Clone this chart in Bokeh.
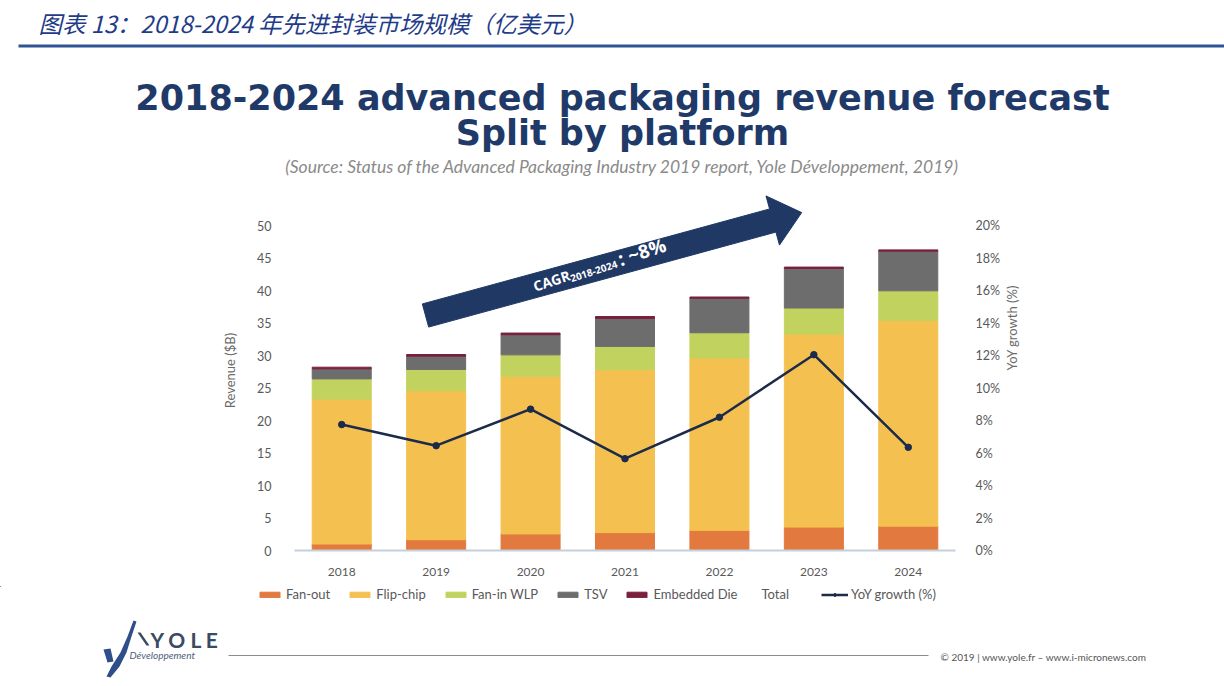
import math
from bokeh.plotting import figure
from bokeh.layouts import column
from bokeh.models import (Range1d, LinearAxis, FixedTicker, PrintfTickFormatter,
                          Label, Legend, LegendItem, ColumnDataSource)
from bokeh.embed import file_html
from bokeh.resources import INLINE

# ---------------- data ----------------
years = ["2018", "2019", "2020", "2021", "2022", "2023", "2024"]
fan_out = [1.0, 1.65, 2.55, 2.75, 3.1, 3.6, 3.75]
flip_chip = [22.3, 22.95, 24.25, 25.05, 26.5, 29.7, 31.65]
fan_in_wlp = [3.1, 3.25, 3.3, 3.6, 3.9, 4.0, 4.55]
tsv = [1.55, 2.05, 3.1, 4.3, 5.3, 6.1, 6.1]
embedded_die = [0.25, 0.25, 0.25, 0.3, 0.2, 0.2, 0.2]
yoy_growth = [7.75, 6.45, 8.7, 5.65, 8.2, 12.05, 6.35]
revenue_ticks = [0, 5, 10, 15, 20, 25, 30, 35, 40, 45, 50]
growth_ticks = [0, 2, 4, 6, 8, 10, 12, 14, 16, 18, 20]
series_names = ["Fan-out", "Flip-chip", "Fan-in WLP", "TSV", "Embedded Die"]
series_colors = ["#E2793F", "#F4C150", "#C2D25E", "#6D6D6D", "#7A1F3D"]

# ---------------- layout constants (page pixels) ----------------
W, H = 1224, 686
TOP_H = 190                      # header strip
MAIN_H = 396                     # chart strip (page y 190..586)
BOT_H = H - TOP_H - MAIN_H       # legend + footer strip
FL, FR, FT, FB = 294, 955, 190, 550
rev_end = 50 * (FB - FT) / (FB - 225)
pct_end = 20 * (FB - FT) / (FB - 225)

TXT = "#595959"
NAVY = "#1F3A68"
LINE_C = "#1C2B4A"


def no_align(f):
    try:
        f.frame_align = False
    except Exception:
        pass


def strip(height, y0):
    f = figure(width=W, height=height, x_range=Range1d(0, W), y_range=Range1d(y0 + height, y0),
               output_backend="svg", toolbar_location=None, x_axis_type=None, y_axis_type=None,
               min_border=0)
    f.outline_line_color = None
    f.xgrid.visible = False
    f.ygrid.visible = False
    no_align(f)
    return f


def lab(fig, x, y, text, **kw):
    kw.setdefault("text_baseline", "middle")
    l = Label(x=x, y=y, text=text, **kw)
    fig.add_layout(l)
    return l

# ---------------- header strip ----------------
top = strip(TOP_H, 0)
lab(top, 38, 22, "图表 13：2018-2024 年先进封装市场规模（亿美元）", text_font="Noto Sans CJK SC",
    text_font_style="italic", text_font_size="23.5px", text_color="#1F3C88")
top.quad(left=[18], right=[W], top=[44], bottom=[47], fill_color="#2F5496", line_color=None)
lab(top, 622, 97, "2018-2024 advanced packaging revenue forecast", text_align="center",
    text_font="DejaVu Sans", text_font_style="bold", text_font_size="35px", text_color=NAVY)
lab(top, 622, 132, "Split by platform", text_align="center",
    text_font="DejaVu Sans", text_font_style="bold", text_font_size="35px", text_color=NAVY)
lab(top, 622, 166, "(Source: Status of the Advanced Packaging Industry 2019 report, Yole Développement, 2019)",
    text_align="center", text_font="Lato", text_font_style="italic", text_font_size="17.5px",
    text_color="#8A8A8A")

# ---------------- main chart ----------------
xpos = [i + 0.5 for i in range(len(years))]
source = ColumnDataSource(dict(x=xpos, year=years, fan_out=fan_out, flip_chip=flip_chip,
                               fan_in_wlp=fan_in_wlp, tsv=tsv, embedded_die=embedded_die,
                               yoy=yoy_growth))

p = figure(width=W, height=MAIN_H, x_range=Range1d(0, len(years)), y_range=Range1d(0, rev_end),
           output_backend="svg", toolbar_location=None,
           min_border_left=FL, min_border_right=W - FR, min_border_top=0,
           min_border_bottom=TOP_H + MAIN_H - FB)
no_align(p)
p.extra_y_ranges = {"pct": Range1d(0, pct_end), "sy": Range1d(FB, FT)}
p.extra_x_ranges = {"sx": Range1d(FL, FR)}
p.outline_line_color = None
p.xgrid.grid_line_color = None
p.ygrid.grid_line_color = None

stack_fields = ["fan_out", "flip_chip", "fan_in_wlp", "tsv", "embedded_die"]
bars = p.vbar_stack(stack_fields, x="x", width=0.625, color=series_colors, source=source)

p.line("x", "yoy", source=source, y_range_name="pct", color=LINE_C, line_width=2.5)
p.scatter("x", "yoy", source=source, y_range_name="pct", size=6.5, fill_color=LINE_C, line_color=LINE_C)

xa = p.xaxis[0]
xa.ticker = FixedTicker(ticks=xpos)
xa.major_label_overrides = {x: y for x, y in zip(xpos, years)}
xa.axis_line_color = "#C5D0DC"
xa.axis_line_width = 2
xa.major_tick_line_color = None
xa.minor_tick_line_color = None
xa.major_label_text_font = "Lato"
xa.major_label_text_font_size = "12px"
xa.major_label_text_color = TXT
xa.major_label_standoff = 11

ya = p.yaxis[0]
ya.ticker = FixedTicker(ticks=revenue_ticks)
ya.axis_line_color = None
ya.major_tick_line_color = None
ya.minor_tick_line_color = None
ya.major_label_text_font = "Lato"
ya.major_label_text_font_size = "12.5px"
ya.major_label_text_color = TXT
ya.major_label_standoff = 17
ya.axis_label = "Revenue ($B)"
ya.axis_label_text_font = "Lato"
ya.axis_label_text_font_style = "normal"
ya.axis_label_text_font_size = "13px"
ya.axis_label_text_color = "#6B6B6B"
ya.axis_label_standoff = 16

ra = LinearAxis(y_range_name="pct", ticker=FixedTicker(ticks=growth_ticks),
                formatter=PrintfTickFormatter(format="%d%%"))
ra.axis_line_color = None
ra.major_tick_line_color = None
ra.minor_tick_line_color = None
ra.major_label_text_font = "Lato"
ra.major_label_text_font_size = "12.5px"
ra.major_label_text_color = TXT
ra.major_label_standoff = 14
ra.axis_label = "YoY growth (%)"
ra.axis_label_text_font = "Lato"
ra.axis_label_text_font_style = "normal"
ra.axis_label_text_font_size = "13px"
ra.axis_label_text_color = "#6B6B6B"
ra.axis_label_standoff = 9
try:
    ra.axis_label_orientation = math.pi / 2
except Exception:
    pass
p.add_layout(ra, "right")

# CAGR arrow (page-pixel coordinates through the "sx"/"sy" ranges)
th = math.radians(15.3)
dvec = (math.cos(th), -math.sin(th))
nvec = (math.sin(th), math.cos(th))
S = (425, 315)
L, HL, w, HW = 390, 30, 12, 25.5
def pt(a, b):
    return (S[0] + dvec[0] * a + nvec[0] * b, S[1] + dvec[1] * a + nvec[1] * b)
arrow = [pt(0, -w), pt(L - HL, -w), pt(L - HL, -HW), pt(L, 0), pt(L - HL, HW), pt(L - HL, w), pt(0, w)]
p.patch([q[0] for q in arrow], [q[1] for q in arrow], x_range_name="sx", y_range_name="sy",
        fill_color="#1F3864", line_color="#1F3864")

ang = math.radians(18)
akw = dict(x_range_name="sx", y_range_name="sy", angle=ang, text_font="Open Sans",
           text_font_style="bold", text_color="white")
lab(p, 533, 286, "CAGR", text_font_size="14px", **akw)
lab(p, 570, 278, "2018-2024", text_font_size="10px", **akw)
lab(p, 618, 259, ": ~8%", text_font_size="19px", **akw)

# ---------------- legend + footer strip ----------------
y0 = TOP_H + MAIN_H
bot = strip(BOT_H, y0)
proxies = [bot.vbar(x=[-1000], top=[-1000], bottom=[-1001], width=1, color=c) for c in series_colors]
leg_y = (y0 + BOT_H) - 602
leg1 = Legend(items=[LegendItem(label=n, renderers=[r]) for n, r in zip(series_names, proxies)],
              location=(257, leg_y), orientation="horizontal", padding=0, margin=0,
              spacing=17, label_standoff=4, glyph_width=25, glyph_height=7, label_height=14,
              label_text_font="Lato", label_text_font_size="13px", label_text_color=TXT,
              border_line_color=None, background_fill_alpha=0)
bot.add_layout(leg1)
lab(bot, 761, 593.5, "Total", text_font="Lato", text_font_size="13px", text_color=TXT)
pl = bot.line(x=[-1000, -999], y=[-1000, -1000], color=LINE_C, line_width=2.5)
ps = bot.scatter(x=[-1000], y=[-1000], size=6.5, fill_color=LINE_C, line_color=LINE_C)
leg2 = Legend(items=[LegendItem(label="YoY growth (%)", renderers=[pl, ps])],
              location=(821, leg_y), orientation="horizontal", padding=0, margin=0,
              label_standoff=3, glyph_width=27, glyph_height=7, label_height=14,
              label_text_font="Lato", label_text_font_size="13px", label_text_color=TXT,
              border_line_color=None, background_fill_alpha=0)
bot.add_layout(leg2)

bot.quad(left=[228], right=[928], top=[654.5], bottom=[655.5], fill_color="#8C8C8C", line_color=None)
lab(bot, 940, 656, "© 2019 | www.yole.fr – www.i-micronews.com", text_font="Lato", text_font_size="10px",
    text_color="#555555")
lab(bot, 150, 639, "Y O L E", text_font="Lato", text_font_style="bold", text_font_size="21px",
    text_color="#3A4A63")
lab(bot, 129, 654, "Développement", text_font="Lato", text_font_style="italic", text_font_size="10px",
    text_color="#50607A")
bot.patch([133, 127, 120, 111, 106, 110, 119, 126, 131, 136],
          [620, 636, 652, 666, 676, 677, 666, 652, 636, 621], fill_color="#2F4E8A", line_color=None)
bot.patch([103, 110, 113, 107], [649, 648, 661, 662], fill_color="#2F4E8A", line_color=None)
bot.patch([137, 140, 149, 146], [632, 632, 645, 645], fill_color="#3A4A63", line_color=None)

layout = column(top, p, bot, spacing=0)
open("out.html", "w").write(file_html(layout, INLINE))
